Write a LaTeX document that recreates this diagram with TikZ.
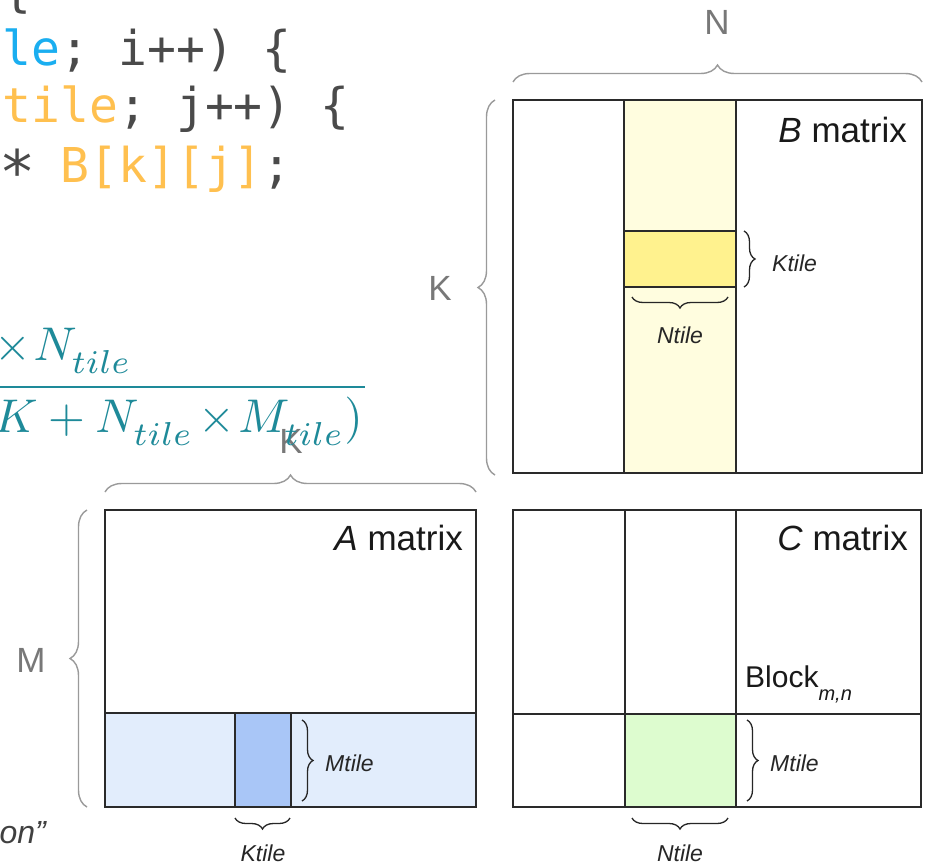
\documentclass[tikz,border=0pt]{standalone}
\usepackage[no-math]{fontspec}
\setmainfont{Liberation Sans}
\newfontfamily\codefont{DejaVu Sans Mono}
\usetikzlibrary{decorations.pathreplacing}

\definecolor{codegray}{HTML}{4A4A4A}
\definecolor{codeblue}{HTML}{1AAEF0}
\definecolor{codeorange}{HTML}{FFC04F}
\definecolor{formulateal}{HTML}{1E8A99}
\definecolor{lineblack}{HTML}{2A2A2A}
\definecolor{bracegray}{HTML}{9A9A9A}
\definecolor{labelgray}{HTML}{787878}
\definecolor{paleyellow}{HTML}{FFFDDF}
\definecolor{tileyellow}{HTML}{FFF28E}
\definecolor{paleblue}{HTML}{E2EDFC}
\definecolor{tileblue}{HTML}{A9C6F7}
\definecolor{tilegreen}{HTML}{DDFCCF}

% subscript "tile", set a little lower than the default
\newcommand{\tilesub}{\lower1.4pt\hbox{$\scriptstyle tile$}}
% tight multiplication sign
\newcommand{\tighttimes}{\mkern2mu\mathord{\times}\mkern1mu}

\tikzset{
  gridline/.style={draw=lineblack, line width=1.6bp},
  outerbrace/.style={draw=bracegray, line width=1.4bp, decorate,
    decoration={brace, amplitude=17bp}},
  innerbrace/.style={draw=black!85, line width=1.3bp, decorate,
    decoration={brace, amplitude=11bp}},
  dimlabel/.style={text=labelgray, inner sep=0,
    font=\fontsize{35bp}{37bp}\selectfont},
  tilelabel/.style={text=black!85, inner sep=0,
    font=\itshape\fontsize{23bp}{25bp}\selectfont},
  titlelabel/.style={text=black!90, inner sep=0, anchor=base east,
    font=\fontsize{35bp}{37bp}\selectfont},
  codeline/.style={text=codegray, inner sep=0, anchor=base west,
    font=\codefont\fontsize{48bp}{58bp}\selectfont},
  formula/.style={text=formulateal, inner sep=0, anchor=base east},
}

\begin{document}
\begin{tikzpicture}[x=1bp,y=-1bp]
\useasboundingbox (0,0) rectangle (926,863);
\clip (0,0) rectangle (926,863);
\fill[white] (0,0) rectangle (926,863);

% ---- code listing ----
\node[codeline] (code1) at (2.6,6.5) {\{};
\node[codeline] (code2) at (-26.3,65) {\textcolor{codeblue}{ile}; i++) \{};
\node[codeline] (code3) at (2.6,122) {\textcolor{codeorange}{tile}; j++) \{};
\node[codeline] (code4) at (2.6,182)
  {\makebox[0.602em]{\raisebox{-11bp}{\scalebox{1.25}{*}}} \textcolor{codeorange}{B[k][j]};};

% ---- B matrix ----
\fill[paleyellow] (624,100) rectangle (736,473);
\fill[tileyellow] (624,231) rectangle (736,287);
\draw[gridline] (513,100) rectangle (922,473);
\draw[gridline] (624,100) -- (624,473);
\draw[gridline] (736,100) -- (736,473);
\draw[gridline] (624,231) -- (736,231);
\draw[gridline] (624,287) -- (736,287);
\node[titlelabel] (btitle) at (907,142) {\textit{B} matrix};

\draw[outerbrace] (513,82) -- (922,82);
\node[dimlabel] (nlabel) at (717,22) {N};
\draw[outerbrace] (495,475) -- (495,100);
\node[dimlabel] (kblabel) at (440,288) {K};

\draw[innerbrace] (744,231) -- (744,287);
\node[tilelabel, anchor=west] (bktile) at (772,263) {Ktile};
\draw[innerbrace] (728,297) -- (632,297);
\node[tilelabel] (bntile) at (680,335) {Ntile};

% ---- A matrix ----
\fill[paleblue] (105,713) rectangle (476,807);
\fill[tileblue] (235,713) rectangle (291,807);
\draw[gridline] (105,510) rectangle (476,807);
\draw[gridline] (105,713) -- (476,713);
\draw[gridline] (235,713) -- (235,807);
\draw[gridline] (291,713) -- (291,807);
\node[titlelabel] (atitle) at (463,550) {\textit{A} matrix};

\draw[outerbrace] (105,492) -- (476,492);
\node[dimlabel] (kalabel) at (291,441) {K};
\draw[outerbrace] (87,807) -- (87,510);
\node[dimlabel] (mlabel) at (31,660) {M};

\draw[innerbrace] (302,720) -- (302,801);
\node[tilelabel, anchor=west] (amtile) at (325,763) {Mtile};
\draw[innerbrace] (290,818) -- (235,818);
\node[tilelabel] (aktile) at (263,853) {Ktile};

% ---- C matrix ----
\fill[tilegreen] (625,714) rectangle (736,807);
\draw[gridline] (513,510) rectangle (921,807);
\draw[gridline] (625,510) -- (625,807);
\draw[gridline] (736,510) -- (736,807);
\draw[gridline] (513,714) -- (921,714);
\node[titlelabel] (ctitle) at (908,550) {\textit{C} matrix};
\node[inner sep=0, anchor=base west, text=black!90,
      font=\fontsize{30bp}{32bp}\selectfont] (block) at (745,687)
  {Block\raisebox{-13bp}{\fontsize{20bp}{20bp}\selectfont\itshape m,n}};

\draw[innerbrace] (747,720) -- (747,801);
\node[tilelabel, anchor=west] (cmtile) at (770,763) {Mtile};
\draw[innerbrace] (728,818) -- (632,818);
\node[tilelabel] (cntile) at (680,853) {Ntile};

% ---- ratio formula ----
\node[formula] (numer) at (132,360)
  {\scalebox{4.75}{$\tighttimes N_{\tilesub}$}};
\draw[formulateal, line width=2.2bp] (0,387) -- (365,387);
\node[formula] (denom) at (363,432)
  {\scalebox{4.75}{$K + N_{\tilesub}\tighttimes M_{\tilesub})$}};

% ---- caption fragment ----
\node[inner sep=0, anchor=base east, text=black!75,
      font=\itshape\fontsize{32bp}{34bp}\selectfont] (caption) at (46,843) {on”};
\end{tikzpicture}
\end{document}
